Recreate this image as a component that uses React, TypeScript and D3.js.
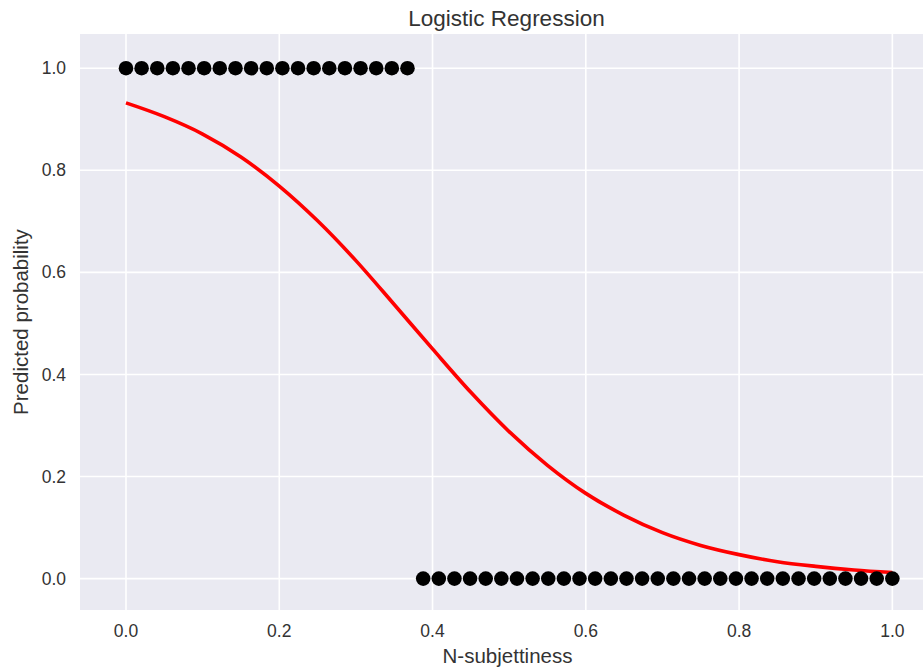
import React from "react";
import { scaleLinear, line, curveMonotoneX } from "d3";

// sample positions (N-subjettiness) and their class labels
const sampleX = [
  0.0, 0.0204, 0.0408, 0.0612, 0.0816, 0.102, 0.1224, 0.1429, 0.1633, 0.1837,
  0.2041, 0.2245, 0.2449, 0.2653, 0.2857, 0.3061, 0.3265, 0.3469, 0.3673, 0.3878,
  0.4082, 0.4286, 0.449, 0.4694, 0.4898, 0.5102, 0.5306, 0.551, 0.5714, 0.5918,
  0.6122, 0.6327, 0.6531, 0.6735, 0.6939, 0.7143, 0.7347, 0.7551, 0.7755, 0.7959,
  0.8163, 0.8367, 0.8571, 0.8776, 0.898, 0.9184, 0.9388, 0.9592, 0.9796, 1.0,
];
const sampleY = [
  1, 1, 1, 1, 1, 1, 1, 1, 1, 1, 1, 1, 1, 1, 1, 1, 1, 1, 1, 0,
  0, 0, 0, 0, 0, 0, 0, 0, 0, 0, 0, 0, 0, 0, 0, 0, 0, 0, 0, 0,
  0, 0, 0, 0, 0, 0, 0, 0, 0, 0,
];

// fitted curve
const curveX = [
  0, 0.05, 0.1, 0.15, 0.2, 0.25, 0.3, 0.35, 0.4, 0.45, 0.5,
  0.55, 0.6, 0.65, 0.7, 0.75, 0.8, 0.85, 0.9, 0.95, 1.0,
];
const curveP = [
  0.932, 0.905, 0.871, 0.826, 0.769, 0.701, 0.623, 0.537, 0.45, 0.365, 0.288,
  0.222, 0.167, 0.124, 0.09, 0.065, 0.047, 0.033, 0.024, 0.017, 0.012,
];

const xTicks = [0, 0.2, 0.4, 0.6, 0.8, 1.0];
const yTicks = [0, 0.2, 0.4, 0.6, 0.8, 1.0];

const W = 923;
const H = 671;
const plot = { left: 80, right: 923, top: 34, bottom: 610 };
const textColor = "#333";
const font = "'Liberation Sans', Arial, sans-serif";

export default function App() {
  const x = scaleLinear().domain([-0.06, 1.04]).range([plot.left, plot.right]);
  const y = scaleLinear().domain([-0.0615, 1.067]).range([plot.bottom, plot.top]);

  const path = line<number>()
    .x((_, i) => x(curveX[i]))
    .y((d) => y(d))
    .curve(curveMonotoneX)(curveP);

  return (
    <svg
      width={W}
      height={H}
      style={{ position: "absolute", left: 0, top: 0, background: "#fff" }}
      fontFamily={font}
    >
      <rect
        x={plot.left}
        y={plot.top}
        width={plot.right - plot.left}
        height={plot.bottom - plot.top}
        fill="#eaeaf2"
      />
      {xTicks.map((t) => (
        <line key={`gx-${t}`} x1={x(t)} x2={x(t)} y1={plot.top} y2={plot.bottom} stroke="#fff" strokeWidth={1.6} />
      ))}
      {yTicks.map((t) => (
        <line key={`gy-${t}`} x1={plot.left} x2={plot.right} y1={y(t)} y2={y(t)} stroke="#fff" strokeWidth={1.6} />
      ))}

      <path d={path ?? ""} fill="none" stroke="#ff0000" strokeWidth={3.6} />

      {sampleX.map((v, i) => (
        <circle key={`pt-${i}`} cx={x(v)} cy={y(sampleY[i])} r={7.3} fill="#000" />
      ))}

      {xTicks.map((t) => (
        <text key={`tx-${t}`} x={x(t)} y={plot.bottom + 27} textAnchor="middle" fontSize={17.5} fill={textColor}>
          {t.toFixed(1)}
        </text>
      ))}
      {yTicks.map((t) => (
        <text key={`ty-${t}`} x={plot.left - 14} y={y(t)} dy="0.35em" textAnchor="end" fontSize={17.5} fill={textColor}>
          {t.toFixed(1)}
        </text>
      ))}

      <text x={(plot.left + plot.right) / 2 + 5} y={26} textAnchor="middle" fontSize={22.5} fill={textColor}>
        Logistic Regression
      </text>
      <text x={(plot.left + plot.right) / 2 + 6} y={663} textAnchor="middle" fontSize={20.5} fill={textColor}>
        N-subjettiness
      </text>
      <text
        transform={`translate(28, ${(plot.top + plot.bottom) / 2}) rotate(-90)`}
        textAnchor="middle"
        fontSize={20.5}
        fill={textColor}
      >
        Predicted probability
      </text>
    </svg>
  );
}
